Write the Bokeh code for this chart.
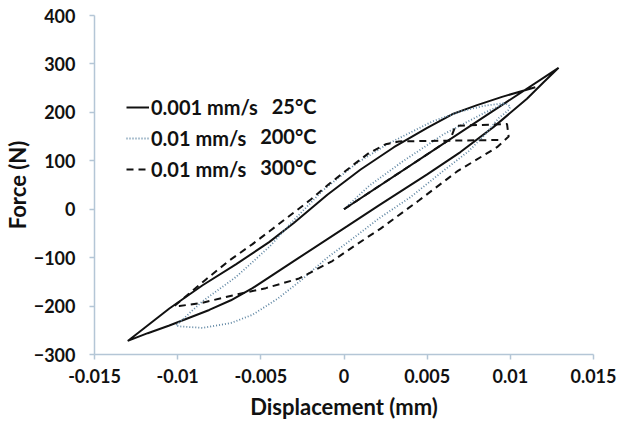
from bokeh.plotting import figure
from bokeh.models import Range1d, Legend, LegendItem, Label, FixedTicker
from bokeh.embed import file_html
from bokeh.resources import INLINE

# ---- data ----
# 0.001 mm/s, 25 C : initial loading, unloading branch, reloading branch
solid_x = [0.0, 0.0129, 0.0120, 0.0110, 0.0090, 0.0070, 0.0050, 0.0021, 0.0002, -0.0027,
           -0.0055, -0.0068, -0.0081, -0.0093, -0.0105, -0.0118, -0.0130,
           -0.0105, -0.0085, -0.0065, -0.0045, -0.0030, -0.0010, 0.0010, 0.0030, 0.0050,
           0.0065, 0.0080, 0.0095, 0.0115]
solid_y = [0, 292, 262, 228, 170, 118, 72, 8, -35, -100,
           -163, -188, -208, -224, -240, -256, -272,
           -205, -157, -114, -68, -28, 30, 82, 128, 168,
           196, 215, 232, 252]

# 0.01 mm/s, 200 C
dot_x = [0.0, 0.0015, 0.0035, 0.0060, 0.0085, 0.0097, 0.0100, 0.0099,
         0.0093, 0.0085, 0.0075, 0.0060, 0.0040, 0.0021, 0.0007, -0.0010, -0.0027,
         -0.0040, -0.0055, -0.0068, -0.0085, -0.0099, -0.0101,
         -0.0085, -0.0065, -0.0045, -0.0030, -0.0013, 0.0008, 0.0027, 0.0053,
         0.0070, 0.0085, 0.0097]
dot_y = [0, 48, 98, 155, 200, 219, 212, 205,
         188, 155, 120, 80, 25, -19, -56, -100, -150,
         -185, -218, -235, -245, -242, -240,
         -190, -140, -78, -22, 38, 96, 136, 181,
         202, 214, 219]

# 0.01 mm/s, 300 C
dash_x = [0.0, 0.0064, 0.0067, 0.0098, 0.0099, 0.0092, 0.0068, 0.0045, 0.0022, 0.0007,
          -0.0007, -0.0027, -0.0047, -0.0067, -0.0085, -0.0099, -0.0102,
          -0.0083, -0.0069, -0.0055, -0.0045, -0.0034, -0.0020, -0.0009, 0.0005, 0.0015,
          0.0025, 0.0033, 0.0050, 0.0095]
dash_y = [0, 145, 172, 176, 150, 128, 78, 18, -40, -74,
          -107, -143, -163, -178, -193, -200, -200,
          -145, -106, -72, -46, -17, 20, 52, 90, 116,
          134, 140, 141, 143]

series_names = ["0.001 mm/s", "0.01 mm/s", "0.01 mm/s"]
series_temps = ["25°C", "200°C", "300°C"]
x_ticks = [-0.015, -0.01, -0.005, 0, 0.005, 0.01, 0.015]
x_tick_labels = ["-0.015", "-0.01", "-0.005", "0", "0.005", "0.01", "0.015"]
y_ticks = [-300, -200, -100, 0, 100, 200, 300, 400]

FONT = "Lato"
AXIS_COLOR = "#b4c6d6"

p = figure(frame_width=499, frame_height=339, output_backend="svg", toolbar_location=None,
           x_range=Range1d(-0.015, 0.015), y_range=Range1d(-300, 400),
           min_border_left=87, min_border_right=32, min_border_top=15, min_border_bottom=57)
p.outline_line_color = None
p.xgrid.visible = False
p.ygrid.visible = False

r_solid = p.line(solid_x, solid_y, line_color="#111111", line_width=2)
r_dot = p.line(dot_x, dot_y, line_color="#5f86a3", line_width=1.8, line_dash="1 2")
r_dash = p.line(dash_x, dash_y, line_color="#111111", line_width=2, line_dash="7 5")

for ax in (p.xaxis[0], p.yaxis[0]):
    ax.axis_line_color = AXIS_COLOR
    ax.axis_line_width = 1.5
    ax.major_tick_line_color = AXIS_COLOR
    ax.major_tick_line_width = 1.5
    ax.major_tick_out = 5
    ax.major_tick_in = 0
    ax.minor_tick_line_color = None
    ax.major_label_text_font = FONT
    ax.major_label_text_font_style = "bold"
    ax.major_label_text_font_size = "18px"
    ax.major_label_text_color = "#111111"
    ax.axis_label_text_font = FONT
    ax.axis_label_text_font_style = "bold"
    ax.axis_label_text_font_size = "22px"
    ax.axis_label_text_color = "#111111"

p.xaxis.ticker = FixedTicker(ticks=x_ticks)
p.xaxis.major_label_overrides = {t: l for t, l in zip(x_ticks, x_tick_labels)}
p.yaxis.ticker = FixedTicker(ticks=y_ticks)
p.xaxis.axis_label = "Displacement (mm)"
p.yaxis.axis_label = "Force (N)"
p.xaxis.major_label_standoff = 9
p.yaxis.major_label_standoff = 14
p.xaxis.axis_label_standoff = 7
p.yaxis.axis_label_standoff = 0

legend = Legend(items=[LegendItem(label=series_names[0], renderers=[r_solid]),
                       LegendItem(label=series_names[1], renderers=[r_dot]),
                       LegendItem(label=series_names[2], renderers=[r_dash])],
                location=(32, 173), orientation="vertical")
legend.background_fill_alpha = 0
legend.border_line_color = None
legend.padding = 0
legend.margin = 0
legend.spacing = 7
legend.glyph_width = 23
legend.glyph_height = 20
legend.label_height = 20
legend.label_standoff = 2
legend.label_text_font = FONT
legend.label_text_font_style = "bold"
legend.label_text_font_size = "20px"
legend.label_text_color = "#111111"
p.add_layout(legend, "center")

for i, t in enumerate(series_temps):
    p.add_layout(Label(x=222, y=249 - i * 30.5, x_units="screen", y_units="screen", text=t,
                       text_align="right", text_baseline="middle", text_font=FONT,
                       text_font_style="bold", text_font_size="20px", text_color="#111111"))

open("out.html", "w").write(file_html(p, INLINE))
